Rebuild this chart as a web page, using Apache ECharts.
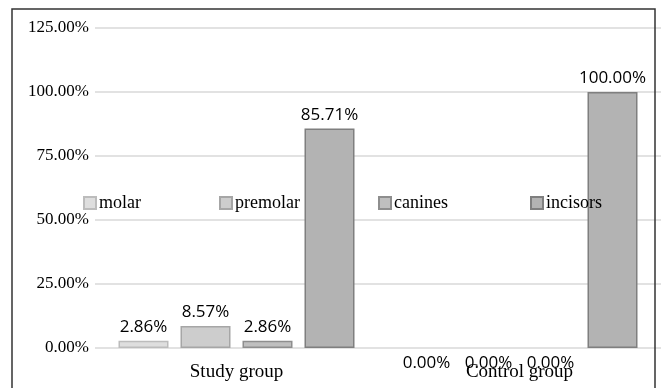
<!DOCTYPE html>
<html>
<head>
<meta charset="utf-8">
<script src="https://cdn.jsdelivr.net/npm/echarts@6/dist/echarts.min.js"></script>
<style>
  html, body { margin: 0; padding: 0; background: #fff; }
  #chart { width: 661px; height: 388px; }
</style>
</head>
<body>
<div id="chart"></div>
<script>
// Share of affected teeth by tooth type, per group
const groups = ['Study group', 'Control group'];
const toothTypes = ['molar', 'premolar', 'canines', 'incisors'];
const molar = [2.86, 0.00];
const premolar = [8.57, 0.00];
const canines = [2.86, 0.00];
const incisors = [85.71, 100.00];
const yTicks = [0, 25, 50, 75, 100, 125];

const values = [molar, premolar, canines, incisors];
const fills = ['#dedede', '#cdcdcd', '#bfbfbf', '#b3b3b3'];
const strokes = ['#bcbcbc', '#a6a6a6', '#8e8e8e', '#7f7f7f'];
const legendLeft = [83, 219, 378, 530];

const serif = '"Liberation Serif", "Times New Roman", serif';
const sans = '"Open Sans", "Noto Sans", sans-serif';

const chart = echarts.init(document.getElementById('chart'), null, { renderer: 'canvas' });

const series = toothTypes.map((name, i) => ({
  name: name,
  type: 'bar',
  barWidth: 50,
  barGap: '24%',
  data: values[i].map(v => ({
    value: v,
    itemStyle: v === 0 ? { borderWidth: 0 } : {},
    label: v === 0
      ? { position: 'bottom', distance: 7 }
      : { position: 'top', distance: 5 }
  })),
  itemStyle: { color: fills[i], borderColor: strokes[i], borderWidth: 1.5 },
  label: {
    show: true,
    color: '#000',
    fontFamily: sans,
    fontSize: 17,
    formatter: p => p.value.toFixed(2) + '%'
  }
}));

chart.setOption({
  animation: false,
  backgroundColor: '#fff',
  graphic: [{
    type: 'rect',
    shape: { x: 12, y: 9, width: 643, height: 400 },
    style: { fill: 'none', stroke: '#333', lineWidth: 1.5 },
    z: 100
  }],
  legend: toothTypes.map((name, i) => ({
    data: [name],
    left: legendLeft[i],
    top: 194,
    itemWidth: 12,
    itemHeight: 12,
    itemGap: 0,
    padding: 0,
    icon: 'rect',
    textStyle: { fontFamily: serif, fontSize: 18, color: '#000', padding: [0, 0, 0, -2] },
    z: 10
  })),
  grid: { left: 95, right: -5, top: 28, bottom: 40, containLabel: false },
  xAxis: {
    type: 'category',
    data: groups,
    axisLine: { show: false },
    axisTick: { show: false },
    axisLabel: { fontFamily: serif, fontSize: 19, color: '#000', margin: 15 }
  },
  yAxis: {
    type: 'value',
    min: yTicks[0],
    max: yTicks[yTicks.length - 1],
    interval: 25,
    axisLine: { show: false },
    axisTick: { show: false },
    splitLine: { lineStyle: { color: '#d9d9d9', width: 1.5 } },
    axisLabel: {
      fontFamily: serif, fontSize: 17, color: '#000', margin: 6,
      formatter: v => v.toFixed(2) + '%'
    }
  },
  series: series
});
</script>
</body>
</html>
